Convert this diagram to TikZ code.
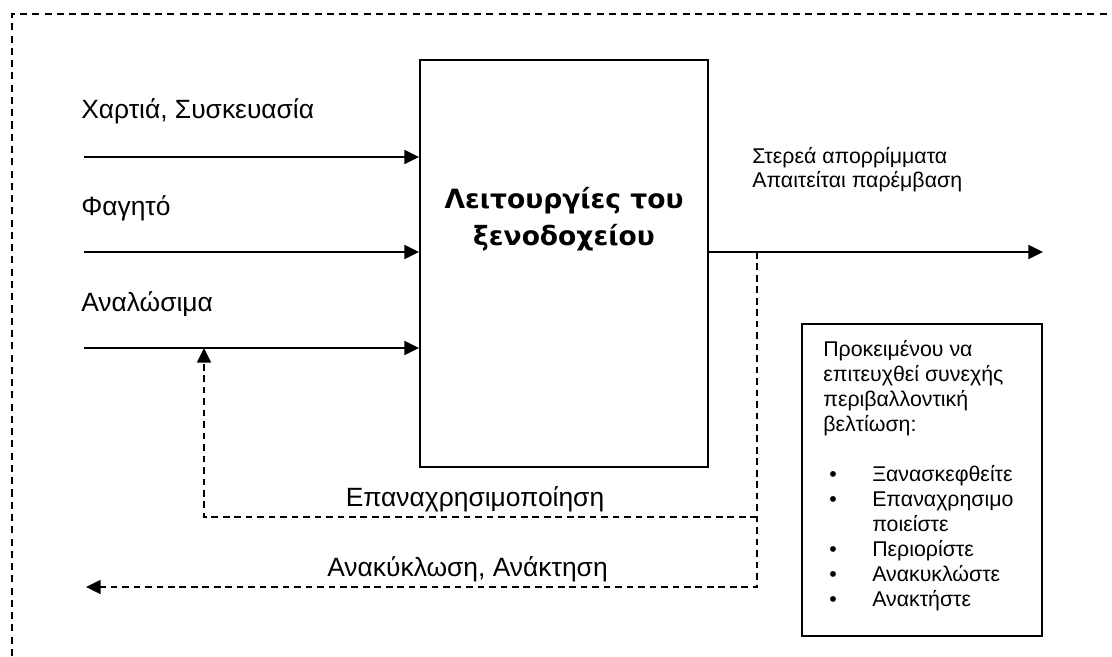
\documentclass[tikz,border=0pt]{standalone}
\usepackage{fontspec}
\setmainfont{Liberation Sans}
\newfontfamily\titlefont{DejaVu Sans}
\usetikzlibrary{arrows.meta}
\newcommand{\bigbul}{\hspace*{4.5pt}\makebox[32.25pt][l]{\textbullet}}
\begin{document}
\begin{tikzpicture}[x=0.75pt,y=-0.75pt,
  solidline/.style={line width=1.4pt},
  arr/.style={solidline,-{Triangle[length=11pt,width=10.5pt]}},
  dline/.style={line width=1.1pt,dash pattern=on 5pt off 3.6pt},
  darr/.style={dline,-{Triangle[length=11pt,width=10.5pt]}},
  border/.style={line width=1.5pt,dash pattern=on 5.3pt off 3.9pt},
  lbl/.style={font=\fontsize{19.8}{23}\selectfont,inner sep=0pt},
  small/.style={font=\fontsize{16}{18}\selectfont,inner sep=0pt,align=left},
]
\useasboundingbox (0,0) rectangle (1112,656);
% outer dashed border (open on right and bottom)
\coordinate (bl) at (12,656);
\coordinate (tl) at (12,14);
\coordinate (tr) at (1112,14);
\draw[border] (bl) -- (tl) -- (tr);

% main box
\node[draw,solidline,minimum width=216pt,minimum height=305.25pt,inner sep=0pt] (box) at (564,263.5) {};
\node[font=\titlefont\bfseries\fontsize{19.9}{27.75}\selectfont,align=center,inner sep=0pt] (title) at (564,219) {Λειτουργίες του\\ξενοδοχείου};

% inputs
\coordinate (s1) at (84,157);
\coordinate (s2) at (84,252);
\coordinate (s3) at (84,348);
\draw[arr] (s1) -- (s1 -| box.west);
\draw[arr] (s2) -- (s2 -| box.west);
\draw[arr] (s3) -- (s3 -| box.west);
\node[lbl,anchor=base west] (l1) at (81,118) {Χαρτιά, Συσκευασία};
\node[lbl,anchor=base west] (l2) at (81,215) {Φαγητό};
\node[lbl,anchor=base west] (l3) at (81,311) {Αναλώσιμα};

% output
\coordinate (o) at (1043,252);
\draw[arr] (o -| box.east) -- (o);
\node[small,anchor=base west] (out) at (752,187) {Στερεά απορρίμματα\\Απαιτείται παρέμβαση};

% feedback loops
\coordinate (v0) at (757,252);
\coordinate (v1) at (757,517);
\coordinate (v2) at (757,587);
\coordinate (u1) at (204,517);
\coordinate (u0) at (204,348);
\coordinate (r) at (86,587);
\draw[darr] (v0) -- (v2) -- (r);
\draw[darr] (v1) -- (u1) -- (u0);
\node[lbl,anchor=base] (reuse) at (475,506) {Επαναχρησιμοποίηση};
\node[lbl,anchor=base] (recyc) at (467.5,576) {Ανακύκλωση, Ανάκτηση};

% right box
\node[draw,solidline,minimum width=180pt,minimum height=234pt,inner sep=0pt] (rb) at (922,480) {};
\node[font=\fontsize{16}{18.75}\selectfont,inner sep=0pt,align=left,anchor=base west] (rbt) at (823,606) {Προκειμένου να\\επιτευχθεί συνεχής\\περιβαλλοντική\\βελτίωση:\\\mbox{}\\
\bigbul Ξανασκεφθείτε\\
\bigbul Επαναχρησιμο\\
\hspace*{36.75pt}ποιείστε\\
\bigbul Περιορίστε\\
\bigbul Ανακυκλώστε\\
\bigbul Ανακτήστε};
\end{tikzpicture}
\end{document}
